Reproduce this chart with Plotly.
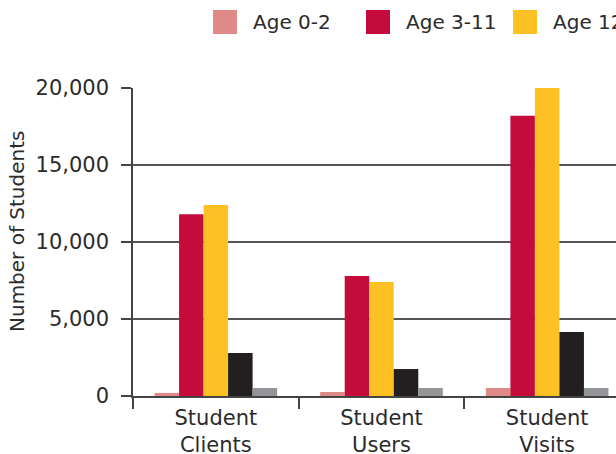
import plotly.graph_objects as go

# Categories and series
categories = ["Student<br>Clients", "Student<br>Users", "Student<br>Visits"]
series_names = ["Age 0-2", "Age 3-11", "Age 12-17", "Age 18+", "Unknown"]
age_0_2 = [200, 260, 520]
age_3_11 = [11800, 7800, 18200]
age_12_17 = [12400, 7400, 20000]
age_18_plus = [2800, 1750, 4150]
unknown = [520, 520, 520]
y_ticks = [0, 5000, 10000, 15000, 20000]

series_values = [age_0_2, age_3_11, age_12_17, age_18_plus, unknown]
colors = ["#e08a88", "#c40b3b", "#fdc123", "#231f20", "#939598"]

FONT = "DejaVu Sans"
TEXT = "#2b2b2b"

W, H = 616, 454
ML, MT, MB = 133, 88, 58
plot_w = W - ML
plot_h = H - MT - MB


def px_x(px):
    return (px - ML) / plot_w


def px_y(py):
    return (H - MB - py) / plot_h


fig = go.Figure()
for name, vals, col in zip(series_names, series_values, colors):
    fig.add_trace(go.Bar(x=categories, y=vals, name=name,
                         marker=dict(color=col, line=dict(width=0)),
                         showlegend=False))

# Custom legend row along the top (large square swatches)
legend_px = [213, 366, 513, 690, 830]
sw = 24
for name, col, px in zip(series_names, colors, legend_px):
    fig.add_shape(type="rect", xref="paper", yref="paper",
                  x0=px_x(px), x1=px_x(px + sw),
                  y0=px_y(34), y1=px_y(10),
                  fillcolor=col, line=dict(width=0))
    fig.add_annotation(xref="paper", yref="paper",
                       x=px_x(px + sw + 14), y=px_y(22),
                       text=name, showarrow=False, xanchor="left",
                       yanchor="middle",
                       font=dict(family=FONT, size=20, color=TEXT))

# Vertical axis title
fig.add_annotation(xref="paper", yref="paper",
                   x=px_x(17), y=px_y(232), text="Number of Students",
                   textangle=-90, showarrow=False,
                   xanchor="center", yanchor="middle",
                   font=dict(family=FONT, size=20, color=TEXT))

fig.update_layout(
    width=W, height=H,
    margin=dict(l=ML, r=0, t=MT, b=MB),
    paper_bgcolor="white", plot_bgcolor="white",
    barmode="group", bargap=0.26, bargroupgap=0,
    font=dict(family=FONT, size=21, color=TEXT),
    showlegend=False,
)

fig.update_xaxes(
    range=[-0.5, 2.5 - 14 / 165.7],
    automargin=False,
    showline=True, linecolor="#444", linewidth=1.5,
    ticks="outside", tickson="boundaries", ticklen=11,
    tickcolor="#444", tickwidth=1.5,
    showgrid=False,
    ticklabelstandoff=2,
    tickfont=dict(family=FONT, size=21, color=TEXT),
)

fig.update_yaxes(
    range=[0, 20000], tickvals=y_ticks, tickformat=",d",
    automargin=False,
    showline=True, linecolor="#444", linewidth=1.5,
    ticks="outside", ticklen=10, tickcolor="#444", tickwidth=1.5,
    showgrid=True, gridcolor="#555", gridwidth=1.5,
    zeroline=False,
    ticklabelstandoff=8,
    tickfont=dict(family=FONT, size=21, color=TEXT),
)

fig.write_html("out.html")
